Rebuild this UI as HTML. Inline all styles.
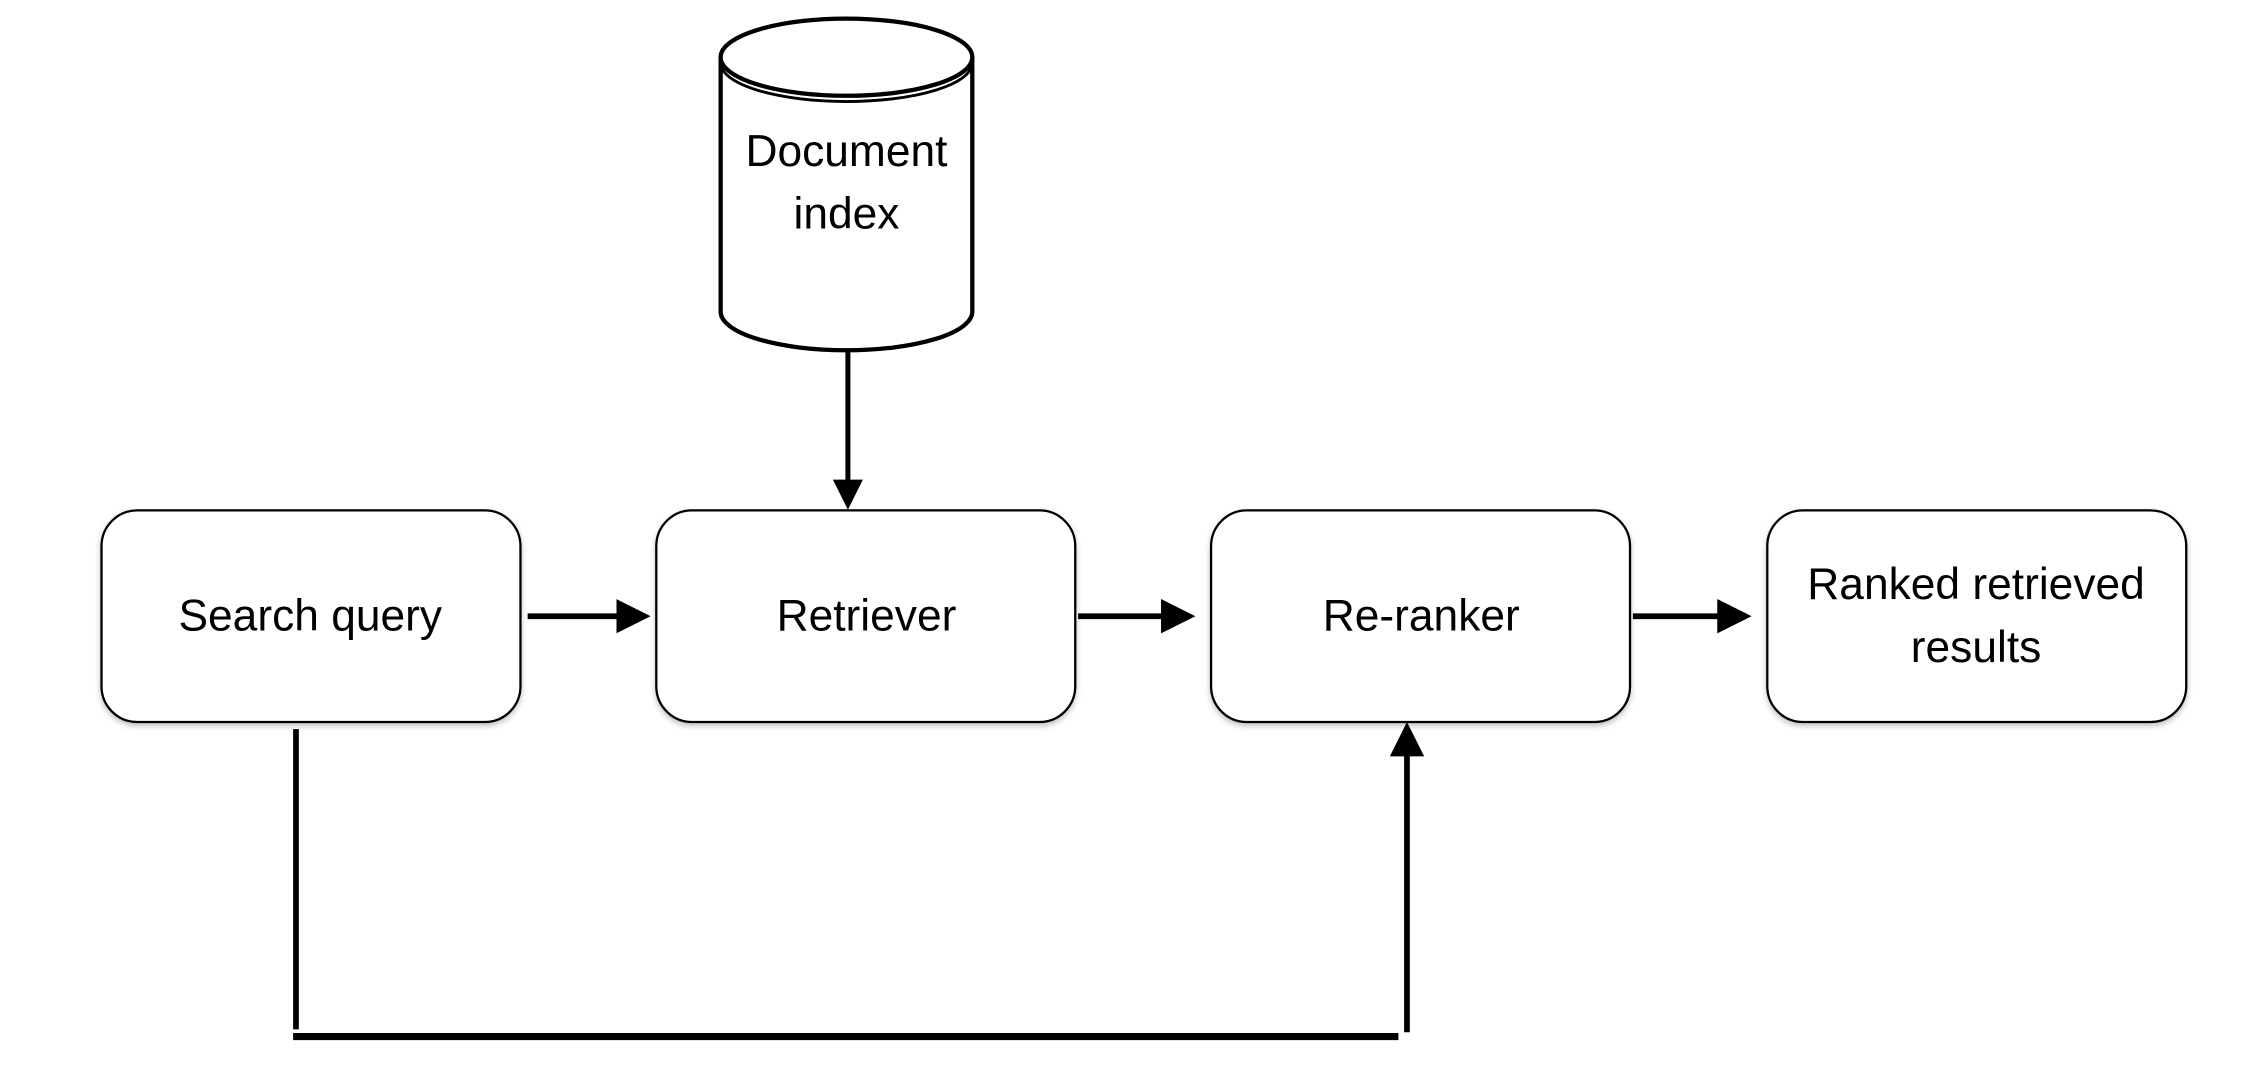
<!DOCTYPE html>
<html><head><meta charset="utf-8"><style>
html,body{margin:0;padding:0;background:#fff;width:2242px;height:1078px;overflow:hidden}
svg{display:block}
text{font-family:"Liberation Sans",sans-serif;font-size:31px;fill:#000;text-anchor:middle}
</style></head><body>
<svg width="2242" height="1078" viewBox="0 0 1568 754" preserveAspectRatio="none">
<defs>
<filter id="sh" x="-10%" y="-10%" width="120%" height="130%"><feDropShadow dx="0" dy="2" stdDeviation="2" flood-color="#000" flood-opacity="0.25"/></filter>
<marker id="ah" markerWidth="6" markerHeight="6" refX="5" refY="3" orient="auto" markerUnits="strokeWidth"><path d="M0,0 L6,3 L0,6 z" fill="#000"/></marker>
</defs>
<path d="M504,40 L504,218 A88,27 0 0 0 680,218 L680,40" fill="#fff" stroke="#000" stroke-width="3"/>
<ellipse cx="592" cy="40" rx="88" ry="27" fill="#fff" stroke="#000" stroke-width="3"/>
<path d="M504,44 A88,27 0 0 0 680,44" fill="none" stroke="#000" stroke-width="2"/>
<text x="592" y="116">Document</text>
<text x="592" y="160">index</text>
<g fill="#fff" stroke="#000" stroke-width="1.6" filter="url(#sh)">
<rect x="71" y="357" width="293" height="148" rx="25"/>
<rect x="459" y="357" width="293" height="148" rx="25"/>
<rect x="847" y="357" width="293" height="148" rx="25"/>
<rect x="1236" y="357" width="293" height="148" rx="25"/>
</g>
<text x="217" y="441">Search query</text>
<text x="606" y="441">Retriever</text>
<text x="994" y="441">Re-ranker</text>
<text x="1382" y="419">Ranked retrieved</text>
<text x="1382" y="463">results</text>
<g stroke="#000" stroke-width="4" fill="none">
<line x1="369" y1="431" x2="451" y2="431" marker-end="url(#ah)"/>
<line x1="754" y1="431" x2="832" y2="431" marker-end="url(#ah)"/>
<line x1="1142" y1="431" x2="1221" y2="431" marker-end="url(#ah)"/>
<line x1="593" y1="245" x2="593" y2="353" marker-end="url(#ah)" stroke-width="3.5"/>
<line x1="207" y1="510" x2="207" y2="720"/>
<line x1="205" y1="725" x2="978" y2="725" stroke-width="5"/>
<line x1="984" y1="722" x2="984" y2="509" marker-end="url(#ah)"/>
</g>
</svg>
</body></html>
